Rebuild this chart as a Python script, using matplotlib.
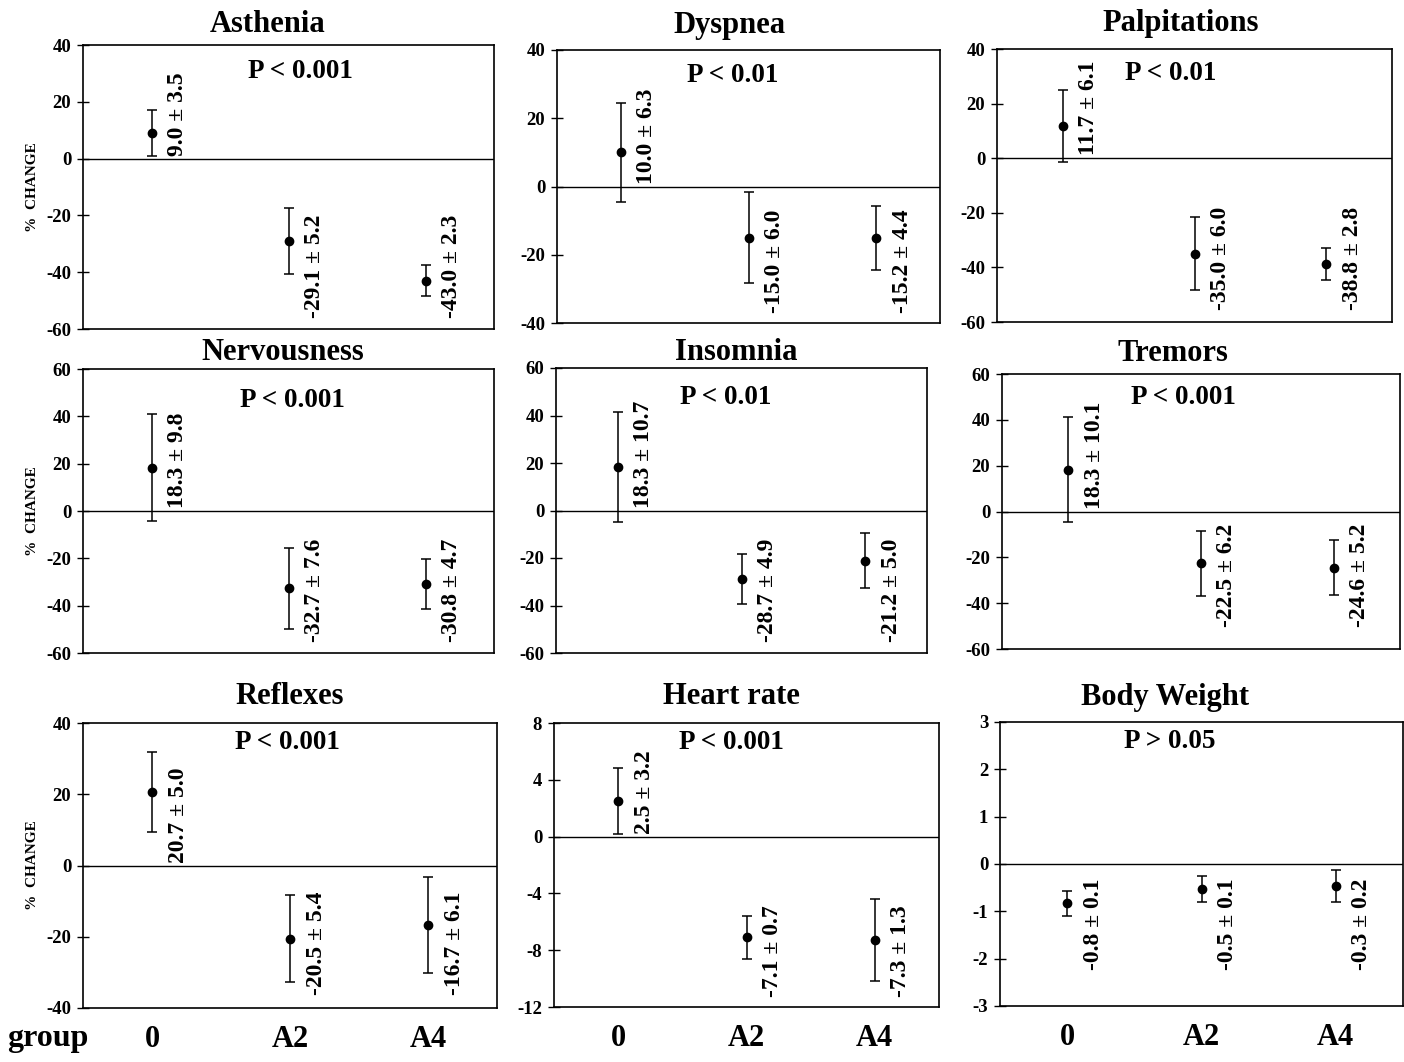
import matplotlib
matplotlib.use("Agg")
import matplotlib.pyplot as plt
from matplotlib.transforms import offset_copy

plt.rcParams["font.family"] = ["Liberation Serif", "DejaVu Serif"]
plt.rcParams["font.weight"] = "bold"

# ---- data ----
groups = ["0", "A2", "A4"]
symptoms = ["Asthenia", "Dyspnea", "Palpitations",
            "Nervousness", "Insomnia", "Tremors",
            "Reflexes", "Heart rate", "Body Weight"]
p_values = ["P < 0.001", "P < 0.01", "P < 0.01",
            "P < 0.001", "P < 0.01", "P < 0.001",
            "P < 0.001", "P < 0.001", "P > 0.05"]

asthenia_mean = [9.0, -29.1, -43.0]
asthenia_err = [8.1, 11.6, 5.4]
asthenia_lbl = ["9.0 ± 3.5", "-29.1 ± 5.2", "-43.0 ± 2.3"]

dyspnea_mean = [10.0, -15.0, -15.2]
dyspnea_err = [14.4, 13.4, 9.4]
dyspnea_lbl = ["10.0 ± 6.3", "-15.0 ± 6.0", "-15.2 ± 4.4"]

palpitations_mean = [11.7, -35.0, -38.8]
palpitations_err = [13.2, 13.4, 5.9]
palpitations_lbl = ["11.7 ± 6.1", "-35.0 ± 6.0", "-38.8 ± 2.8"]

nervousness_mean = [18.3, -32.7, -30.8]
nervousness_err = [22.5, 17.0, 10.5]
nervousness_lbl = ["18.3 ± 9.8", "-32.7 ± 7.6", "-30.8 ± 4.7"]

insomnia_mean = [18.3, -28.7, -21.2]
insomnia_err = [23.0, 10.5, 11.6]
insomnia_lbl = ["18.3 ± 10.7", "-28.7 ± 4.9", "-21.2 ± 5.0"]

tremors_mean = [18.3, -22.5, -24.6]
tremors_err = [23.0, 14.2, 12.0]
tremors_lbl = ["18.3 ± 10.1", "-22.5 ± 6.2", "-24.6 ± 5.2"]

reflexes_mean = [20.7, -20.5, -16.7]
reflexes_err = [11.3, 12.2, 13.6]
reflexes_lbl = ["20.7 ± 5.0", "-20.5 ± 5.4", "-16.7 ± 6.1"]

heart_mean = [2.5, -7.1, -7.3]
heart_err = [2.3, 1.5, 2.9]
heart_lbl = ["2.5 ± 3.2", "-7.1 ± 0.7", "-7.3 ± 1.3"]

weight_mean = [-0.83, -0.53, -0.47]
weight_err = [0.27, 0.27, 0.34]
weight_lbl = ["-0.8 ± 0.1", "-0.5 ± 0.1", "-0.3 ± 0.2"]

y_ticks = [
    [40, 20, 0, -20, -40, -60],
    [40, 20, 0, -20, -40],
    [40, 20, 0, -20, -40, -60],
    [60, 40, 20, 0, -20, -40, -60],
    [60, 40, 20, 0, -20, -40, -60],
    [60, 40, 20, 0, -20, -40, -60],
    [40, 20, 0, -20, -40],
    [8, 4, 0, -4, -8, -12],
    [3, 2, 1, 0, -1, -2, -3],
]

means = [asthenia_mean, dyspnea_mean, palpitations_mean, nervousness_mean,
         insomnia_mean, tremors_mean, reflexes_mean, heart_mean, weight_mean]
errs = [asthenia_err, dyspnea_err, palpitations_err, nervousness_err,
        insomnia_err, tremors_err, reflexes_err, heart_err, weight_err]
labels = [asthenia_lbl, dyspnea_lbl, palpitations_lbl, nervousness_lbl,
          insomnia_lbl, tremors_lbl, reflexes_lbl, heart_lbl, weight_lbl]

# ---- layout (pixel boxes of each panel: left, top, right, bottom) ----
W, H = 1404, 1062
boxes = [
    (83, 45, 494, 329), (557, 50, 940, 323), (997, 49, 1392, 322),
    (83, 369, 494, 653), (556, 368, 927, 653), (1002, 374, 1400, 649),
    (83, 723, 497, 1008), (554, 723, 939, 1007), (1000, 722, 1403, 1006),
]
title_x = [0.45, 0.45, 0.466, 0.485, 0.487, 0.43, 0.50, 0.46, 0.41]
title_dy = [21, 25, 26, 16, 15, 21, 26, 26, 25]
p_xy = [(0.53, 0.905), (0.46, 0.908), (0.44, 0.912),
        (0.51, 0.89), (0.458, 0.895), (0.457, 0.913),
        (0.495, 0.93), (0.46, 0.933), (0.42, 0.93)]
neg_label_bottom = [11, 10, 12, 11, 11, 22, 13, 10, 36]
PT = 0.72  # points per pixel at dpi 100

fig = plt.figure(figsize=(W / 100, H / 100), dpi=100)

for i, name in enumerate(symptoms):
    l, t, r, b = boxes[i]
    ax = fig.add_axes([l / W, 1 - b / H, (r - l) / W, (b - t) / H])
    x = list(range(len(groups)))
    ax.errorbar(x, means[i], yerr=errs[i], fmt="o", color="black",
                markersize=6, elinewidth=1.1, capsize=3.5, capthick=1.1)
    ax.axhline(0, color="black", lw=1.0)
    ax.set_xlim(-0.5, 2.5)
    ticks = y_ticks[i]
    ax.set_ylim(min(ticks), max(ticks))
    ax.set_yticks(ticks)
    ax.set_yticklabels([str(v) for v in ticks], fontsize=13.5, fontweight="bold")
    ax.tick_params(axis="y", direction="inout", length=9, width=1.0, pad=4)
    ax.tick_params(axis="x", length=0)
    for s in ax.spines.values():
        s.set_linewidth(1.2)

    if i >= 6:
        ax.set_xticks(x)
        ax.set_xticklabels(groups, fontsize=22, fontweight="bold")
        ax.tick_params(axis="x", pad=12)
    else:
        ax.set_xticks([])

    if i % 3 == 0:
        ax.set_ylabel("%  CHANGE", fontsize=11, fontweight="bold", labelpad=5)

    ax.text(title_x[i], 1.0, name,
            transform=offset_copy(ax.transAxes, fig=fig, y=title_dy[i] * PT, units="points"),
            ha="center", va="center", fontsize=22, fontweight="bold")
    ax.text(p_xy[i][0], p_xy[i][1], p_values[i], transform=ax.transAxes,
            ha="center", va="center", fontsize=19.5, fontweight="bold")

    for j, (m, lab) in enumerate(zip(means[i], labels[i])):
        if m > 0:
            tr = offset_copy(ax.transData, fig=fig, x=26 * PT, y=2, units="points")
        else:
            tr = offset_copy(ax.get_xaxis_transform(), fig=fig, x=26 * PT,
                             y=neg_label_bottom[i] * PT, units="points")
        ax.text(j, 0, lab, transform=tr, rotation=90, ha="center",
                va="bottom", fontsize=17, fontweight="bold")

fig.text(48 / W, 1 - 1046 / H, "group", ha="center", va="baseline",
         fontsize=23, fontweight="bold")

fig.savefig("out.png", dpi=100)
plt.close(fig)
